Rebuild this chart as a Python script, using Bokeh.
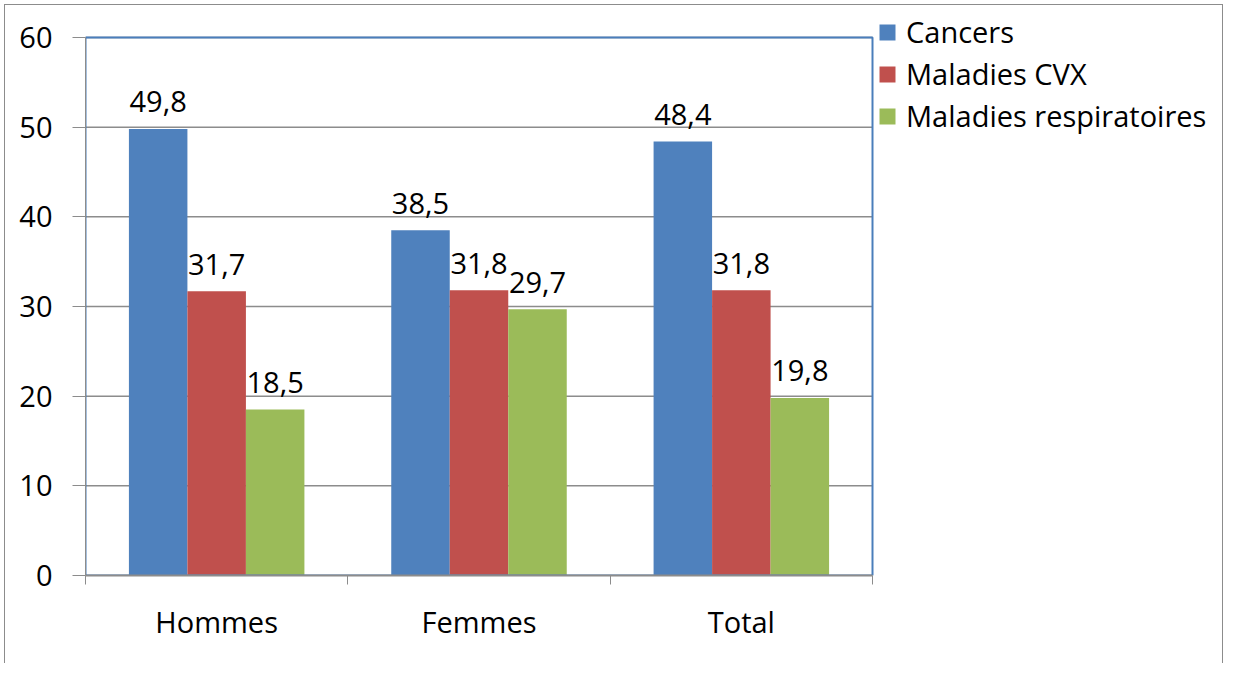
from bokeh.plotting import figure
from bokeh.models import ColumnDataSource, Range1d, FixedTicker, Legend, LegendItem
from bokeh.embed import file_html
from bokeh.resources import INLINE
from bokeh.core.properties import value

categories = ["Hommes", "Femmes", "Total"]
series_names = ["Cancers", "Maladies CVX", "Maladies respiratoires"]
cancers = [49.8, 38.5, 48.4]
maladies_cvx = [31.7, 31.8, 31.8]
maladies_resp = [18.5, 29.7, 19.8]
y_ticks = [0, 10, 20, 30, 40, 50, 60]

colors = ["#4F81BD", "#C0504D", "#9BBB59"]
FONT = "Open Sans"
FS = "29px"
bar_w = 0.223
offsets = [-bar_w, 0.0, bar_w]

Y_MAX = y_ticks[-1]
N = len(categories)
# frame: plot area is 787 x 538 px; extra frame room above and to the right for the legend
FRAME_W, FRAME_H = 1140, 565
PA_W, PA_H = 787, 538

p = figure(width=1227, height=670, output_backend="svg", toolbar_location=None,
           x_range=Range1d(0, N * FRAME_W / PA_W), y_range=Range1d(0, Y_MAX * FRAME_H / PA_H),
           min_border_left=85, min_border_right=1227 - 85 - FRAME_W,
           min_border_top=670 - 95 - FRAME_H, min_border_bottom=95)
p.border_fill_color = None
p.background_fill_color = None
p.outline_line_color = None
p.styles = {"outline": "1.5px solid #8c8c8c", "outline-offset": "-5px",
            "clip-path": "inset(0 0 7px 0)"}

p.xgrid.grid_line_color = None
p.ygrid.grid_line_color = None

# y axis
p.yaxis.ticker = FixedTicker(ticks=y_ticks)
p.yaxis.bounds = (0, Y_MAX)
p.yaxis.axis_line_color = "#8c8c8c"
p.yaxis.major_tick_line_color = "#8c8c8c"
p.yaxis.major_tick_out = 13
p.yaxis.major_tick_in = 0
p.yaxis.minor_tick_line_color = None
p.yaxis.major_label_standoff = 20
p.yaxis.major_label_text_font = FONT
p.yaxis.major_label_text_font_size = FS
p.yaxis.major_label_text_color = "black"

# x axis
centers = [i + 0.5 for i in range(N)]
bounds = [i for i in range(N + 1)]
p.xaxis.ticker = FixedTicker(ticks=centers, minor_ticks=bounds)
p.xaxis.bounds = (0, N)
p.xaxis.major_label_overrides = {c: name for c, name in zip(centers, categories)}
p.xaxis.axis_line_color = "#8c8c8c"
p.xaxis.axis_line_width = 2
p.xaxis.major_tick_line_color = None
p.xaxis.major_tick_out = 0
p.xaxis.major_tick_in = 0
p.xaxis.minor_tick_line_color = "#8c8c8c"
p.xaxis.minor_tick_out = 9
p.xaxis.minor_tick_in = 0
p.xaxis.major_label_standoff = 17
p.xaxis.major_label_text_font = FONT
p.xaxis.major_label_text_font_size = FS
p.xaxis.major_label_text_color = "black"

# gridlines across the plot area only
grid_y = [t for t in y_ticks if t > 0]
p.segment(x0=[0] * len(grid_y), x1=[N] * len(grid_y), y0=grid_y, y1=grid_y,
          line_color="#8c8c8c", line_width=1.5)

items = []
text_srcs = []
for k, (name, vals) in enumerate(zip(series_names, [cancers, maladies_cvx, maladies_resp])):
    xs = [c + offsets[k] for c in centers]
    src = ColumnDataSource(dict(
        x=xs, top=vals,
        label=[("%.1f" % v).replace(".", ",") for v in vals],
    ))
    r = p.vbar(x="x", top="top", bottom=0, width=bar_w, source=src,
               fill_color=colors[k], line_color=None)
    text_srcs.append(src)
    items.append(LegendItem(label=name, renderers=[r]))

# plot-area border
p.quad(left=[0], right=[N], bottom=[0], top=[Y_MAX], fill_color=None,
       line_color="#4A7EBB", line_width=2)

for src in text_srcs:
    p.text(x="x", y="top", text="label", source=src, y_offset=-27,
           text_align="center", text_baseline="alphabetic",
           text_font=value(FONT), text_font_size=FS, text_color="black")

legend = Legend(items=items, location=(PA_W + 5, 440))
legend.background_fill_alpha = 0
legend.border_line_color = None
legend.padding = 0
legend.margin = 0
legend.glyph_width = 20
legend.glyph_height = 20
legend.label_height = 20
legend.spacing = 3
legend.label_standoff = 9
legend.label_text_font = FONT
legend.label_text_font_size = FS
legend.label_text_color = "black"
p.add_layout(legend)

open("out.html", "w").write(file_html(p, INLINE))
